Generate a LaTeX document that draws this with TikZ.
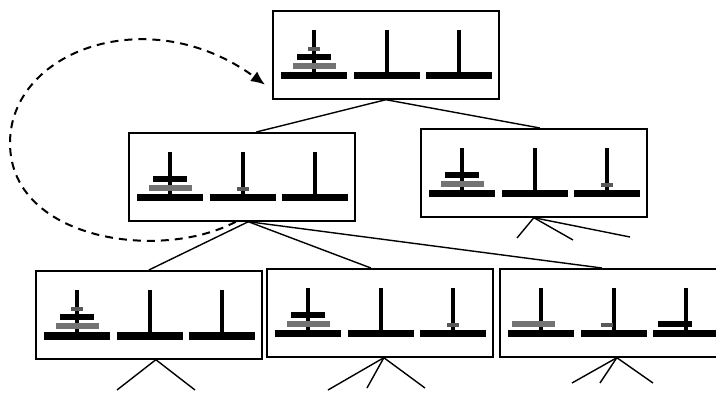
\documentclass[tikz,border=0pt]{standalone}
\usetikzlibrary{arrows.meta,calc}
\definecolor{dgray}{gray}{0.45}
\definecolor{sgray}{gray}{0.35}
\tikzset{
  box/.style={draw, line width=1.7pt, minimum width=226pt, minimum height=88pt, inner sep=0pt, anchor=north west},
  conn/.style={line width=1.4pt},
  back/.style={line width=2pt, dash pattern=on 8pt off 6pt, -{Latex[length=14pt,width=12pt]}}
}
% pegs and bases inside a box scope
\newcommand\hpegs{%
  \foreach \c in {42,115,187}{%
    \fill (\c-2.2,20) rectangle (\c+2.2,64);
    \fill (\c-33,62.5) rectangle (\c+33,69.5);}}
\newcommand\dkL[2]{\fill[dgray] (#1-21.5,#2-5.5) rectangle (#1+21.5,#2);}
\newcommand\dkM[2]{\fill[black] (#1-17,#2-5.5) rectangle (#1+17,#2);}
\newcommand\dkS[2]{\fill[sgray] (#1-6,#2-4) rectangle (#1+6,#2);}
\begin{document}
\begin{tikzpicture}[x=1pt,y=-1pt]
\useasboundingbox (0,0) rectangle (716,393);
% boxes
\node[box] (A) at (272,10) {};
\node[box] (B) at (128,132) {};
\node[box] (C) at (420,128) {};
\node[box] (D) at (35,270) {};
\node[box] (E) at (266,268) {};
\node[box] (F) at (499,268) {};
% A: all on peg 1
\begin{scope}[shift={(A.north west)}]
  \hpegs \dkL{42}{59} \dkM{42}{50} \dkS{42}{41}
\end{scope}
% B: L,M on peg1; S on peg2
\begin{scope}[shift={(B.north west)}]
  \hpegs \dkL{42}{59} \dkM{42}{50} \dkS{115}{59}
\end{scope}
% C: L,M on peg1; S on peg3
\begin{scope}[shift={(C.north west)}]
  \hpegs \dkL{42}{59} \dkM{42}{50} \dkS{187}{59}
\end{scope}
% D: all on peg 1
\begin{scope}[shift={(D.north west)}]
  \hpegs \dkL{42}{59} \dkM{42}{50} \dkS{42}{41}
\end{scope}
% E: L,M on peg1; S on peg3
\begin{scope}[shift={(E.north west)}]
  \hpegs \dkL{42}{59} \dkM{42}{50} \dkS{187}{59}
\end{scope}
% F: L on peg1; S on peg2; M on peg3
\begin{scope}[shift={(F.north west)}]
  \hpegs \dkL{34}{59} \dkS{108}{59} \dkM{176}{59}
\end{scope}
% tree connectors
\draw[conn] (A.south) -- ([xshift=14.5pt]B.north);
\draw[conn] (A.south) -- ([xshift=6pt]C.north);
\coordinate (bo) at ([xshift=6.5pt]B.south);
\draw[conn] (bo) -- (D.north);
\draw[conn] (bo) -- ([xshift=-9pt]E.north);
\draw[conn] (bo) -- ([xshift=-11pt]F.north);
% loose children
\coordinate (c1) at (517,238); \coordinate (c2) at (573,240); \coordinate (c3) at (630,237);
\draw[conn] (C.south) -- (c1); \draw[conn] (C.south) -- (c2); \draw[conn] (C.south) -- (c3);
\coordinate (d1) at (117,390); \coordinate (d2) at (195,390);
\draw[conn] ([xshift=7pt]D.south) -- (d1); \draw[conn] ([xshift=7pt]D.south) -- (d2);
\coordinate (e1) at (328,390); \coordinate (e2) at (367,388); \coordinate (e3) at (425,388);
\draw[conn] ([xshift=4pt]E.south) -- (e1); \draw[conn] ([xshift=4pt]E.south) -- (e2); \draw[conn] ([xshift=4pt]E.south) -- (e3);
\coordinate (f1) at (572,383); \coordinate (f2) at (600,383); \coordinate (f3) at (653,383);
\draw[conn] ([xshift=4pt]F.south) -- (f1); \draw[conn] ([xshift=4pt]F.south) -- (f2); \draw[conn] ([xshift=4pt]F.south) -- (f3);
% dashed back arrow
\coordinate (ds) at ([xshift=-6pt]B.south);
\coordinate (dt) at ($(A.south west)+(-7,-15)$);
\draw[back] (ds) .. controls (160,262) and (10,240) .. (10,143)
  .. controls (10,50) and (150,0) .. (dt);
\end{tikzpicture}
\end{document}
